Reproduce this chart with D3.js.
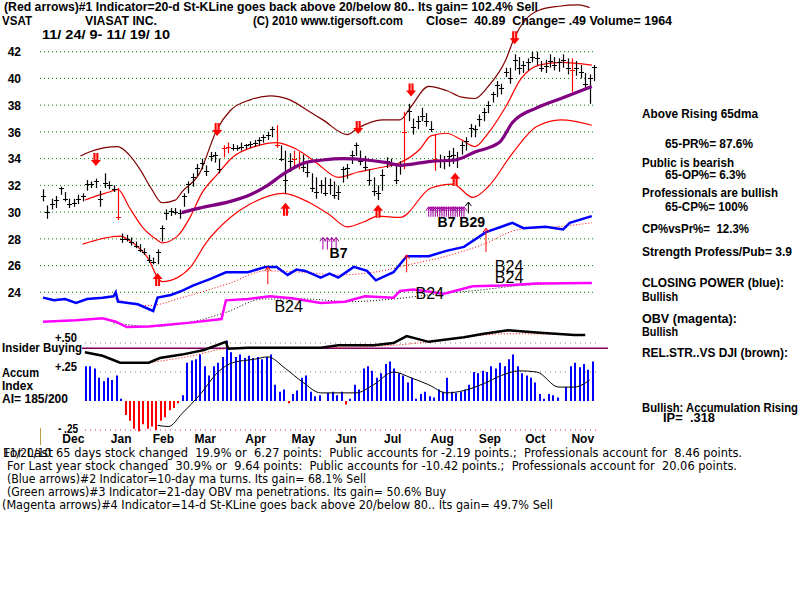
<!DOCTYPE html>
<html>
<head>
<meta charset="utf-8">
<script src="https://d3js.org/d3.v7.min.js"></script>
<style>
  body { margin: 0; background: #fff; }
  svg { display: block; }
  .bold { font-family: "Liberation Sans", Arial, sans-serif; font-weight: bold; font-size: 12px; white-space: pre; }
  .narrow { font-family: "Liberation Sans Narrow", "DejaVu Sans Condensed", sans-serif; font-size: 12.5px; white-space: pre; }
</style>
</head>
<body>
<div id="chart"></div>
<script>
// day index = trading days counted from 11/24/09
const priceTicks = [24, 26, 28, 30, 32, 34, 36, 38, 40, 42];
const months = ["Dec", "Jan", "Feb", "Mar", "Apr", "May", "Jun", "Jul", "Aug", "Sep", "Oct", "Nov"];
const monthStart = [4, 26, 45, 64, 87, 108, 128, 150, 171, 193, 214, 235];

// price bars, one every 2 trading days
const barHigh = [31.7,30.5,31.0,31.2,31.9,31.5,31.0,31.0,31.3,31.4, 32.4,32.3,32.5,31.6,32.9,32.3,32.0,31.8,28.4,28.3,
  28.1,27.8,27.6,27.3,26.8,26.6,27.2,29.0,30.2,30.3, 30.3,30.2,31.4,32.3,32.9,33.6,34.0,33.5,34.5,34.5,
  34.0,35.0,35.2,35.1,35.0,35.2,35.1,35.3,35.4,35.6, 35.8,36.0,36.4,36.5,35.0,34.6,34.4,34.6,34.5,34.3,
  33.8,32.9,32.6,32.4,32.6,32.5,32.3,32.0,33.4,33.6, 34.6,35.2,34.6,34.2,33.2,32.6,32.0,33.2,34.1,34.0,
  33.6,33.8,37.5,38.1,37.0,37.2,37.8,37.4,36.8,35.8, 34.3,34.2,34.6,34.8,34.5,35.3,35.6,36.6,36.5,37.3,
  37.8,38.3,39.0,39.8,39.6,40.8,40.8,41.8,41.6,41.3, 41.5,42.0,42.0,41.3,41.4,41.8,41.6,41.5,41.8,41.5,
  41.5,41.3,41.0,40.4,40.3,41.0];
const barLow = [30.8,29.5,30.2,30.3,31.3,30.8,30.3,30.4,30.6,30.8, 31.6,31.8,31.8,30.4,31.8,31.7,31.5,29.4,27.7,27.8,
  27.5,27.3,27.0,26.8,26.2,26.1,26.1,27.8,29.4,29.7, 29.8,29.5,30.4,31.4,31.9,32.7,33.2,32.7,33.8,33.7,
  32.9,34.1,34.4,34.6,34.6,34.6,34.7,34.8,34.9,35.0, 35.2,35.4,35.6,34.8,33.8,31.4,33.0,33.4,33.2,33.0,
  32.6,31.5,31.0,31.4,31.2,31.3,31.0,30.9,32.2,32.5, 33.6,34.2,33.5,33.1,32.0,31.2,30.9,31.6,33.3,33.4,
  32.1,32.8,33.2,36.8,35.8,36.2,36.8,36.4,36.0,33.1, 33.3,33.2,33.4,33.6,33.3,34.3,34.6,35.6,35.6,36.4,
  36.8,37.4,38.2,38.6,38.8,40.1,39.6,40.6,40.3,40.4, 40.6,41.2,41.0,40.5,40.4,40.8,40.6,40.5,40.8,40.3,
  39.0,40.2,40.0,39.3,38.1,39.8];
const barClose = [31.2,30.0,30.6,30.9,31.8,31.0,30.6,30.7,31.0,31.2, 32.1,32.1,32.3,31.0,32.2,32.0,31.7,29.6,28.0,28.0,
  27.8,27.5,27.2,27.0,26.4,26.3,27.0,28.8,29.9,30.1, 30.0,29.9,31.2,32.1,32.6,33.3,33.7,33.1,34.2,34.3,
  33.2,34.8,34.9,34.8,34.8,34.9,35.0,35.1,35.2,35.4, 35.6,35.8,36.2,35.0,34.0,32.4,33.8,34.0,33.6,33.4,
  33.0,31.8,31.5,32.0,31.4,32.0,31.3,31.5,33.2,33.3, 34.3,35.0,33.8,33.4,32.4,31.6,31.4,32.8,33.8,33.7,
  32.4,33.5,36.0,37.6,36.4,36.8,37.2,36.8,36.2,34.0, 33.8,33.9,34.2,34.3,34.0,35.0,35.3,36.3,36.2,37.0,
  37.5,38.0,38.8,39.5,39.3,40.5,40.0,41.4,40.8,41.0, 41.2,41.6,41.5,40.8,40.9,41.3,41.0,41.2,41.4,40.8,
  40.6,40.8,40.5,39.6,40.0,40.89];
const redBars = [17, 41, 42, 53, 57, 58, 82, 89, 120];

// bands and moving average [day, price]
const upperBand = [[17,34.2],[21,34.5],[34,34.9],[39,34.3],[44,33.2],[49,31.8],[54,30.7],[60,30.9],[63,31.5],[71,32.9],
  [79,36.2],[85,37.6],[94,38.4],[103,38.7],[112,38.4],[121,37.5],[127,36.9],[138,35.8],[143,36.3],[154,36.9],
  [162,36.9],[167,37.9],[175,39.4],[183,39.1],[190,38.6],[196,38.5],[202,39.4],[210,41.4],[214,43.1],[219,44.4],
  [225,45.1],[234,45.4],[243,45.5],[248,45.3]];
const midBand = [[19,30.9],[24,31.2],[30,31.5],[34,31.7],[39,30.4],[45,28.9],[52,27.9],[54,27.7],[61,28.2],[67,29.7],
  [72,31.4],[79,32.8],[86,34.1],[96,34.9],[106,35.2],[115,34.7],[124,33.7],[134,32.6],[143,33.0],[152,33.3],
  [162,33.7],[171,34.7],[176,35.7],[183,35.9],[190,35.4],[196,34.9],[202,35.9],[210,37.9],[217,40.0],[225,41.0],
  [235,41.2],[249,41.0]];
const lowerBand = [[18,27.6],[35,28.2],[39,27.9],[47,26.7],[54,24.8],[61,25.1],[67,25.9],[74,27.7],[85,29.6],[94,30.6],
  [109,31.4],[121,30.7],[130,29.8],[138,28.9],[146,29.3],[152,29.7],[162,29.6],[176,31.8],[186,32.1],[195,31.1],
  [202,31.9],[213,34.4],[224,36.4],[235,36.9],[249,36.5]];
const ma65 = [[63,29.96],[71,30.3],[85,30.8],[94,31.3],[101,31.9],[110,32.95],[119,33.7],[127,33.9],[136,34.0],[147,33.9],
  [156,33.7],[162,33.5],[176,33.8],[187,33.9],[196,34.5],[207,35.2],[213,36.7],[224,37.8],[235,38.5],[249,39.4]];

// closing power (blue) and OBV (magenta), drawn in price units
const closingPower = [[0,23.6],[5,23.4],[10,23.5],[15,23.2],[20,23.5],[27,23.6],[32,23.7],[33,24.0],[34,23.3],[43,23.1],
  [50,22.6],[52,23.6],[58,23.8],[63,24.1],[68,24.5],[76,25.0],[83,25.5],[93,25.5],[101,25.9],[106,25.9],
  [111,25.3],[115,25.7],[119,25.6],[126,25.1],[130,25.4],[134,25.1],[141,25.9],[147,25.6],[151,24.9],[159,25.5],
  [165,26.7],[175,26.7],[183,27.1],[191,27.4],[201,28.5],[208,28.9],[213,29.2],[218,28.8],[228,28.9],[236,28.7],
  [239,29.2],[249,29.7]];
const cpAverage = [[33,23.5],[48,23.0],[63,23.6],[85,24.7],[101,25.6],[118,25.5],[134,25.3],[150,25.5],[167,26.1],[183,26.7],
  [200,27.6],[216,28.7],[233,28.9],[249,29.2]];
const obv = [[0,21.8],[15,21.9],[27,22.05],[33,21.8],[38,21.4],[48,21.45],[68,21.75],[81,22.0],[83,23.4],[93,23.5],
  [103,23.7],[113,23.55],[126,23.2],[137,23.3],[146,23.7],[159,23.6],[162,24.1],[168,24.2],[182,23.9],[195,24.45],
  [208,24.5],[224,24.65],[249,24.7]];
const obvAverage = [[32,21.7],[50,21.45],[68,21.8],[83,22.5],[100,23.5],[119,23.5],[139,23.3],[159,23.5],[175,23.8],[200,24.2],
  [216,24.5],[249,24.7]];

// accumulation index, one bar every 2 trading days from day 19
const accumIndex = [0.30,0.30,0.28,0.20,0.17,0.20,0.18,0.22,0.02,-0.12,
  -0.17,-0.24,-0.26,-0.20,-0.24,-0.22,-0.25,-0.17,-0.14,-0.08,
  -0.06,-0.02,0.05,0.33,0.35,0.36,0.40,0.30,0.22,0.30,
  0.33,0.38,0.52,0.42,0.38,0.40,0.37,0.39,0.37,0.38,
  0.36,0.38,0.40,0.14,0.08,0.10,-0.02,0.06,0.09,0.20,
  0.22,0.08,0.04,0.05,0.00,0.07,0.08,0.05,0.08,-0.03,
  0.02,0.14,0.10,0.28,0.30,0.26,0.20,0.24,0.32,0.34,
  0.28,0.24,0.22,0.16,0.20,0.02,0.06,0.08,0.04,0.03,
  0.10,0.08,0.20,0.08,0.07,0.08,0.10,0.14,0.25,0.24,
  0.26,0.25,0.30,0.28,0.33,0.30,0.36,0.40,0.30,0.24,
  0.22,0.20,0.16,0.06,0.02,0.06,0.05,0.03,0.00,0.12,
  0.30,0.33,0.29,0.32,0.27,0.34];
const accumAverage = [[52,-0.21],[57,-0.22],[63,-0.11],[71,0.05],[80,0.26],[86,0.33],[96,0.36],[102,0.38],[110,0.28],[118,0.16],
  [126,0.07],[136,0.07],[142,0.07],[150,0.14],[159,0.25],[167,0.20],[175,0.14],[183,0.07],[191,0.09],[200,0.15],
  [208,0.22],[216,0.26],[224,0.25],[234,0.12],[241,0.12],[248,0.18]];
const relStrength = [[19,0.42],[27,0.39],[35,0.33],[43,0.33],[48,0.33],[53,0.37],[63,0.40],[73,0.44],[83,0.51],[84,0.45],
  [93,0.46],[110,0.46],[126,0.46],[134,0.48],[150,0.48],[159,0.50],[165,0.56],[175,0.51],[183,0.53],[191,0.55],
  [200,0.58],[211,0.61],[224,0.59],[241,0.57],[246,0.57]];
const rsAverage = [[48,0.33],[68,0.39],[83,0.45],[126,0.46],[159,0.48],[175,0.51],[211,0.58],[246,0.57]];
const insiderLevel = 0.454;
const accumTicks = [{v: 0.5, t: "+.50"}, {v: 0.25, t: "+.25"}, {v: -0.25, t: "- .25"}];

// signals [day, price]
const sellArrows = [[24,33.9],[79,36.15],[143,36.3],[167,39.1],[214,43.0]];
const buyArrows = [[52,25.0],[110,30.25],[152,30.1],[187,32.5]];
const cpArrows = [[102,24.6,25.9],[165,25.5,26.8],[201,27.0,28.8]];
const magentaArrowsA = [127,129,131,133];
const magentaArrowsB = [175,176,177,178,179,180,181,182,183,184,185,186,187,188,189,190,191];
const blackArrow = [193, 29.9, 30.75];
const signalLabels = [
  {d: 130, p: 26.6, t: "B7", cls: "bold", size: 14},
  {d: 179, p: 28.9, t: "B7 B29", cls: "bold", size: 14},
  {d: 105, p: 22.56, t: "B24", size: 16},
  {d: 169, p: 23.47, t: "B24", size: 16},
  {d: 205, p: 25.55, t: "B24", size: 16},
  {d: 205, p: 24.73, t: "B24", size: 16}
];

const W = 800, H = 600;
const svg = d3.select("#chart").append("svg").attr("width", W).attr("height", H);

const x = d3.scaleLinear().domain([0, 250]).range([43, 594]);
const yP = d3.scaleLinear().domain([24, 42]).range([292.3, 51.7]);
const yA = d3.scaleLinear().domain([-0.25, 0.5]).range([430, 343]);

function label(px, py, str, len, cls) {
  const t = svg.append("text").attr("class", cls || "bold").attr("x", px).attr("y", py).text(str);
  if (len) t.attr("textLength", len).attr("lengthAdjust", "spacingAndGlyphs");
  return t;
}

// grid
svg.append("g").selectAll("line").data(priceTicks).join("line")
  .attr("x1", 40).attr("x2", 596)
  .attr("y1", d => yP(d)).attr("y2", d => yP(d))
  .attr("stroke", "#008000").attr("stroke-dasharray", "1,3");

svg.append("g").selectAll("line").data(accumTicks).join("line")
  .attr("x1", 85).attr("x2", 596)
  .attr("y1", d => yA(d.v)).attr("y2", d => yA(d.v))
  .attr("stroke", d => d.v < 0 ? "#d02090" : "#808080").attr("stroke-dasharray", "1,4");

// price axis labels
const yAxis = svg.append("g").attr("transform", "translate(21,0)")
  .call(d3.axisLeft(yP).tickValues(priceTicks).tickSize(0).tickPadding(0).tickFormat(d3.format("d")));
yAxis.select(".domain").remove();
yAxis.selectAll("text").attr("class", "bold").attr("font-size", null).attr("font-family", null)
  .attr("fill", "#000").attr("dy", "0.35em");

// month axis
const xAxis = svg.append("g").attr("transform", "translate(0,443)")
  .call(d3.axisBottom(x).tickValues(monthStart).tickSize(0).tickPadding(0).tickFormat((d, i) => months[i]));
xAxis.select(".domain").remove();
xAxis.selectAll("text").attr("class", "bold").attr("font-size", null).attr("font-family", null)
  .attr("fill", "#000").attr("text-anchor", "start").attr("dx", 10).attr("dy", 0).attr("y", 0);

// lines
const lineP = d3.line().x(d => x(d[0])).y(d => yP(d[1]));
const smoothP = d3.line().x(d => x(d[0])).y(d => yP(d[1])).curve(d3.curveMonotoneX);
const lineA = d3.line().x(d => x(d[0])).y(d => yA(d[1]));
const smoothA = d3.line().x(d => x(d[0])).y(d => yA(d[1])).curve(d3.curveMonotoneX);

svg.append("path").datum(upperBand).attr("d", smoothP).attr("fill", "none").attr("stroke", "#800000").attr("stroke-width", 1.2);
svg.append("path").datum(midBand).attr("d", smoothP).attr("fill", "none").attr("stroke", "#ff0000").attr("stroke-width", 1.2);
svg.append("path").datum(lowerBand).attr("d", smoothP).attr("fill", "none").attr("stroke", "#ff0000").attr("stroke-width", 1.2);

svg.append("path").datum(cpAverage).attr("d", smoothP).attr("fill", "none").attr("stroke", "#ff0000").attr("stroke-dasharray", "1,2");
svg.append("path").datum(closingPower).attr("d", lineP).attr("fill", "none").attr("stroke", "#0000ff").attr("stroke-width", 2.5);
svg.append("path").datum(obvAverage).attr("d", smoothP).attr("fill", "none").attr("stroke", "#000").attr("stroke-dasharray", "1,2");
svg.append("path").datum(obv).attr("d", lineP).attr("fill", "none").attr("stroke", "#ff00ff").attr("stroke-width", 2.5);

// price bars
const bars = svg.append("g");
barHigh.forEach((h, i) => {
  const bx = Math.round(x(i * 2)) + 0.5;
  const col = redBars.includes(i) ? "#ff0000" : "#000";
  bars.append("line").attr("x1", bx).attr("x2", bx).attr("y1", yP(h)).attr("y2", yP(barLow[i]))
    .attr("stroke", col).attr("stroke-width", 1.2);
  bars.append("line").attr("x1", bx - 2.5).attr("x2", bx + 2.5)
    .attr("y1", Math.round(yP(barClose[i])) + 0.5).attr("y2", Math.round(yP(barClose[i])) + 0.5)
    .attr("stroke", col);
});

svg.append("path").datum(ma65).attr("d", smoothP).attr("fill", "none").attr("stroke", "#800080").attr("stroke-width", 3.2);

// arrows
function fatArrow(d, down) {
  const g = svg.append("g").attr("transform", `translate(${x(d[0])},${yP(d[1])}) scale(1,${down ? 1 : -1})`);
  g.append("path").attr("d", "M-2.5,-7 h5 v7 h2.5 l-5,6 l-5,-6 h2.5 z").attr("fill", "#ff0000");
  g.append("line").attr("x1", 0).attr("x2", 0).attr("y1", -7).attr("y2", 0).attr("stroke", "#fff").attr("stroke-width", 0.8);
}
sellArrows.forEach(d => fatArrow(d, true));
buyArrows.forEach(d => fatArrow(d, false));

function thinArrow(d, base, tip, col) {
  const ax = x(d), y0 = yP(base), y1 = yP(tip);
  svg.append("path").attr("d", `M${ax},${y0} V${y1} M${ax - 3},${y1 + 4} L${ax},${y1} L${ax + 3},${y1 + 4}`)
    .attr("fill", "none").attr("stroke", col).attr("stroke-width", 1);
}
cpArrows.forEach(d => thinArrow(d[0], d[1], d[2], "#ff0000"));
magentaArrowsA.forEach(d => thinArrow(d, 27.2, 28.1, "#a000a0"));
magentaArrowsB.forEach(d => thinArrow(d, 29.65, 30.4, "#a000a0"));
thinArrow(blackArrow[0], blackArrow[1], blackArrow[2], "#000");

signalLabels.forEach(s => {
  svg.append("text").attr("x", x(s.d)).attr("y", yP(s.p))
    .attr("font-family", "Liberation Sans, Arial, sans-serif")
    .attr("font-weight", s.cls ? "bold" : "normal").attr("font-size", s.size)
    .attr("fill", "#000").text(s.t);
});

// accumulation panel
svg.append("line").attr("x1", 82).attr("x2", 608).attr("y1", yA(insiderLevel)).attr("y2", yA(insiderLevel))
  .attr("stroke", "#800060").attr("stroke-width", 1.5);

svg.append("g").selectAll("line").data(accumIndex).join("line")
  .attr("x1", (d, i) => Math.round(x(19 + i * 2)) + 1).attr("x2", (d, i) => Math.round(x(19 + i * 2)) + 1)
  .attr("y1", yA(0)).attr("y2", d => yA(d))
  .attr("stroke", d => d < 0 ? "#ff0000" : "#0000ff").attr("stroke-width", 2);

svg.append("path").datum(accumAverage).attr("d", smoothA).attr("fill", "none").attr("stroke", "#000").attr("stroke-width", 1);
svg.append("path").datum(rsAverage).attr("d", smoothA).attr("fill", "none").attr("stroke", "#ff0000").attr("stroke-dasharray", "1,2");
svg.append("path").datum(relStrength).attr("d", lineA).attr("fill", "none").attr("stroke", "#000").attr("stroke-width", 2.5);

svg.append("line").attr("x1", 40.5).attr("x2", 40.5).attr("y1", 428).attr("y2", 445).attr("stroke", "#b8a040");

accumTicks.forEach(t => label(t.v < 0 ? 58 : 55, yA(t.v) + (t.v < 0 ? 3 : -1), t.t, t.v < 0 ? 20 : 22));
label(2, 352, "Insider Buying", 80);
label(2, 377, "Accum", 37);
label(2, 390, "Index", 31);
label(2, 403, "AI= 185/200", 66);

// header
label(4, 11, "(Red arrows)#1 Indicator=20-d St-KLine goes back above 20/below 80.. Its gain= 102.4% Sell", 534);
label(2, 25, "VSAT", 30);
label(85, 25, "VIASAT INC.", 72);
label(253, 25, "(C) 2010 www.tigersoft.com", 150);
label(426, 25, "Close=  40.89  Change= .49 Volume= 1964", 246);
label(42, 39, "11/ 24/ 9- 11/ 19/ 10", 128);

// right side notes
label(642, 118, "Above Rising 65dma", 116);
label(665, 148, "65-PR%= 87.6%", 88);
label(642, 167, "Public is bearish", 92);
label(665, 179, "65-OP%= 6.3%", 81);
label(642, 197, "Professionals are bullish", 136);
label(665, 211, "65-CP%= 100%", 83);
label(642, 233, "CP%vsPr%=  12.3%", 107);
label(642, 256, "Strength Profess/Pub= 3.9", 150);
label(642, 287, "CLOSING POWER (blue):", 142);
label(642, 301, "Bullish", 36);
label(642, 323, "OBV (magenta):", 95);
label(642, 336, "Bullish", 36);
label(642, 357, "REL.STR..VS DJI (brown):", 146);
label(642, 412, "Bullish: Accumulation Rising", 156);
label(663, 422, "IP=  .318", 52);

// bottom notes
label(3, 457, "For Last", 50, "narrow");
label(3, 457, "11/20/10", 48, "narrow");
label(56, 457, "65 days stock changed  19.9% or  6.27 points:  Public accounts for -2.19 points.;  Professionals account for  8.46 points.", 686, "narrow");
label(7, 470, "For Last year stock changed  30.9% or  9.64 points:  Public accounts for -10.42 points.;  Professionals account for  20.06 points.", 730, "narrow");
label(7, 483, "(Blue arrows)#2 Indicator=10-day ma turns. Its gain= 68.1% Sell", 359, "narrow");
label(7, 496, "(Green arrows)#3 Indicator=21-day OBV ma penetrations. Its gain= 50.6% Buy", 439, "narrow");
label(2, 509, "(Magenta arrows)#4 Indicator=14-d St-KLine goes back above 20/below 80.. Its gain= 49.7% Sell", 551, "narrow");
</script>
</body>
</html>
